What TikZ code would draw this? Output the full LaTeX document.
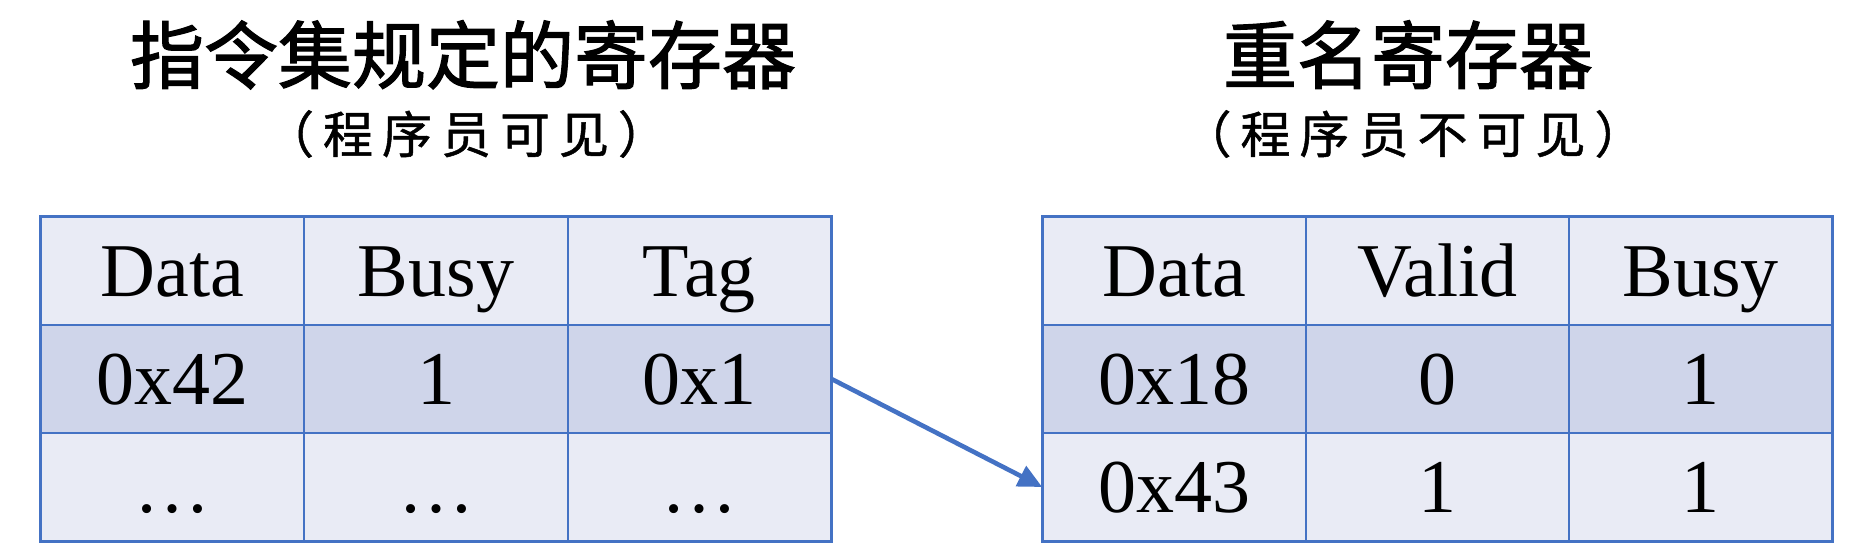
\documentclass[tikz,border=0pt]{standalone}
\usepackage{fontspec}
\setmainfont{Liberation Serif}
\newfontfamily\cjk{Noto Sans CJK SC}[FakeBold=1.6]
\newfontfamily\cjksub{Noto Sans CJK SC}[LetterSpace=18,FakeBold=1]
\definecolor{regline}{RGB}{68,114,196}
\definecolor{reglight}{RGB}{233,235,245}
\definecolor{regdark}{RGB}{207,213,234}
\usetikzlibrary{arrows.meta}

\begin{document}
\begin{tikzpicture}[x=0.5pt,y=-0.5pt,
  cell/.style={draw=regline, line width=0.8pt, minimum width=131.5pt, minimum height=54pt,
    inner sep=0pt, text height=25pt, text depth=0pt, font=\fontsize{38}{40}\selectfont},
  lightcell/.style={cell, fill=reglight},
  darkcell/.style={cell, fill=regdark},
  title/.style={anchor=base, inner sep=0pt, font=\cjk\fontsize{37}{40}\selectfont},
  subtitle/.style={anchor=base, inner sep=0pt, font=\cjksub\fontsize{25}{28}\selectfont}]
  \useasboundingbox (0,0) rectangle (1852,559);
  %% 1. Titles
  \node[title]    (ltitle) at (463,83)   {指令集规定的寄存器};
  \node[subtitle] (lsub)   at (466,153)  {（程序员可见）};
  \node[title]    (rtitle) at (1408,83)  {重名寄存器};
  \node[subtitle] (rsub)   at (1413,153) {（程序员不可见）};
  %% 2. Architectural registers
  \node[lightcell] (l11) at (172.7,271) {Data};
  \node[lightcell] (l12) at (436,271)   {Busy};
  \node[lightcell] (l13) at (699.3,271) {Tag};
  \node[darkcell]  (l21) at (172.7,379) {0x42};
  \node[darkcell]  (l22) at (436,379)   {1};
  \node[darkcell]  (l23) at (699.3,379) {0x1};
  \node[lightcell] (l31) at (172.7,487) {\ldots};
  \node[lightcell] (l32) at (436,487)   {\ldots};
  \node[lightcell] (l33) at (699.3,487) {\ldots};
  \draw[regline, line width=1.4pt] (l11.north west) rectangle (l33.south east);
  %% 3. Rename registers
  \node[lightcell] (r11) at (1174.5,271) {Data};
  \node[lightcell] (r12) at (1437.5,271) {Valid};
  \node[lightcell] (r13) at (1700.5,271) {Busy};
  \node[darkcell]  (r21) at (1174.5,379) {0x18};
  \node[darkcell]  (r22) at (1437.5,379) {0};
  \node[darkcell]  (r23) at (1700.5,379) {1};
  \node[lightcell] (r31) at (1174.5,487) {0x43};
  \node[lightcell] (r32) at (1437.5,487) {1};
  \node[lightcell] (r33) at (1700.5,487) {1};
  \draw[regline, line width=1.4pt] (r11.north west) rectangle (r33.south east);
  %% 4. Mapping
  \draw[regline, line width=2.3pt, -{Triangle[length=12pt,width=11pt]}] (l23.east) -- (r31.west);
\end{tikzpicture}
\end{document}
